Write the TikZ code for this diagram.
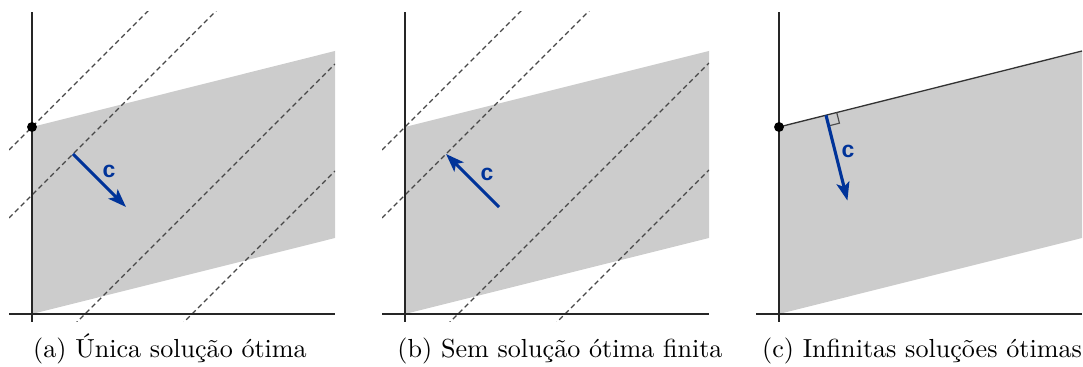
\documentclass[tikz,border=0pt]{standalone}
\usetikzlibrary{arrows.meta,calc}
\usepackage{fontspec}
\newfontfamily\csans{Liberation Sans}
\definecolor{cblue}{RGB}{0,51,153}
\definecolor{regiongray}{RGB}{204,204,204}
\begin{document}
\begin{tikzpicture}[x=0.383pt,y=0.383pt,
  axis/.style={line width=0.5pt, black!85},
  level/.style={line width=0.5pt, black!72, dash pattern=on 1.9pt off 1.3pt},
  region/.style={fill=regiongray},
  edge/.style={line width=0.5pt, black!80},
  cvec/.style={cblue, line width=1.2pt, -{Stealth[length=7pt,width=5pt,inset=1.6pt]}},
  clabel/.style={text=cblue, font=\csans\bfseries\fontsize{8.8}{9}\selectfont, inner sep=0pt},
  optdot/.style={circle, fill=black, inner sep=0pt, minimum size=3.8pt},
  rmark/.style={line width=0.45pt, black!70},
  caption/.style={font=\fontsize{10}{12}\selectfont, anchor=base, inner sep=0pt}]
\useasboundingbox (0,0) rectangle (1083,367);

% ---------- panel (a)
\begin{scope}[shift={(32,53)}]
  \fill[region] (0,0) -- (0,187) -- (303,263) -- (303,76) -- cycle;
  \begin{scope}
    \clip (-23,-8) rectangle (303,302);
    \foreach \k in {187,119,-53,-160} \draw[level] (-23,-23+\k) -- (303,303+\k);
  \end{scope}
  \draw[axis] (-23,0) -- (303,0);
  \draw[axis] (0,-8) -- (0,302);
  \node[optdot] (a-dot) at (0,187) {};
  \coordinate (a-s) at (41,160);
  \coordinate (a-e) at (94,107);
  \draw[cvec] (a-s) -- (a-e);
  \node[clabel] (a-c) at (77,143) {c};
\end{scope}
\node[caption] (a-cap) at (170,9) {(a) Única solução ótima};

% ---------- panel (b)
\begin{scope}[shift={(405,53)}]
  \fill[region] (0,0) -- (0,187) -- (304,263) -- (304,76) -- cycle;
  \begin{scope}
    \clip (-23,-8) rectangle (304,302);
    \foreach \k in {187,119,-53,-160} \draw[level] (-23,-23+\k) -- (304,304+\k);
  \end{scope}
  \draw[axis] (-23,0) -- (304,0);
  \draw[axis] (0,-8) -- (0,302);
  \coordinate (b-s) at (94,107);
  \coordinate (b-e) at (41,160);
  \draw[cvec] (b-s) -- (b-e);
  \node[clabel] (b-c) at (82,140) {c};
\end{scope}
\node[caption] (b-cap) at (560,9) {(b) Sem solução ótima finita};

% ---------- panel (c)
\begin{scope}[shift={(779,53)}]
  \fill[region] (0,0) -- (0,187) -- (303,263) -- (303,76) -- cycle;
  \draw[axis] (-23,0) -- (303,0);
  \draw[axis] (0,-8) -- (0,302);
  \coordinate (c-o) at (0,187);
  \coordinate (c-r) at (303,263);
  \draw[edge] (c-o) -- (c-r);
  \node[optdot] (c-dot) at (c-o) {};
  \coordinate (c-s) at (47,198.8);
  \coordinate (c-e) at (68.4,113.4);
  \coordinate (c-m1) at (57.7,201.5);
  \coordinate (c-m2) at (60.4,190.8);
  \coordinate (c-m3) at (49.7,188.1);
  \draw[rmark] (c-m1) -- (c-m2) -- (c-m3);
  \draw[cvec] (c-s) -- (c-e);
  \node[clabel] (c-c) at (69,163) {c};
\end{scope}
\node[caption] (c-cap) at (922,9) {(c) Infinitas soluções ótimas};
\end{tikzpicture}
\end{document}
